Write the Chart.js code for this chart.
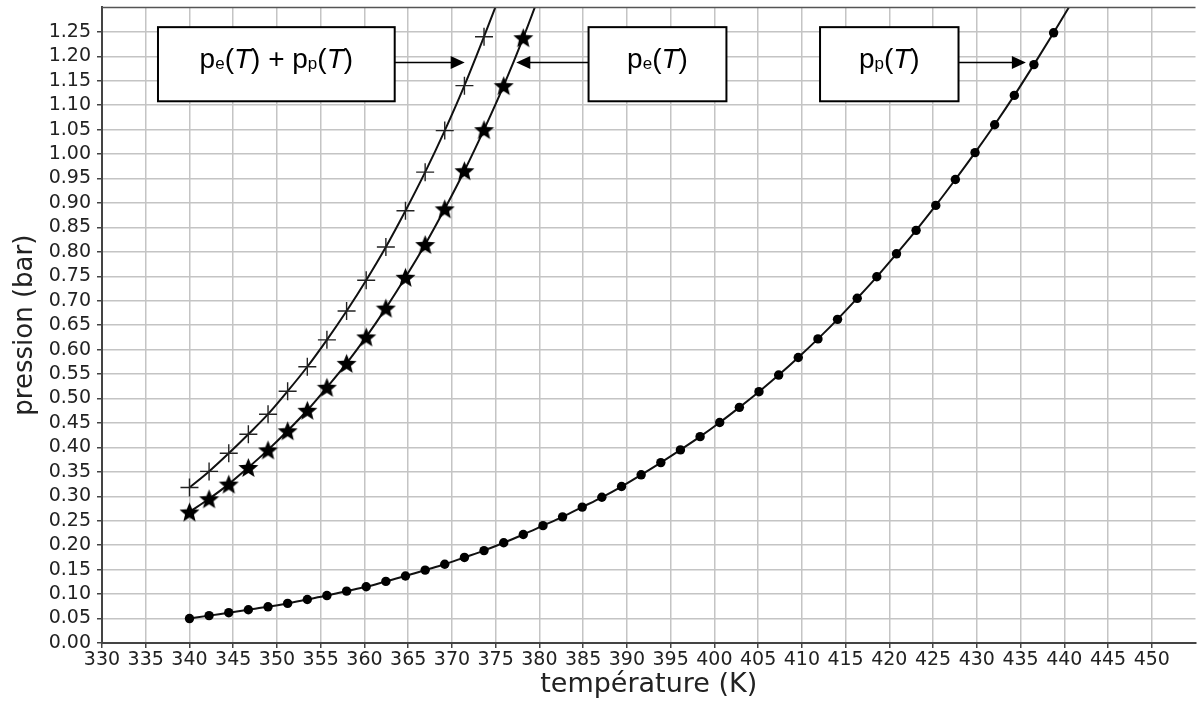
<!DOCTYPE html>
<html>
<head>
<meta charset="utf-8">
<script src="https://cdn.jsdelivr.net/npm/chart.js@4/dist/chart.umd.min.js"></script>
<style>
  html, body { margin: 0; background: #fff; overflow: hidden; }
  /* canvas slightly larger than the window so the plot area reaches the right edge and top as in the reference */
  #wrap { position: absolute; left: 0; top: -10px; width: 1208px; height: 714px; }
</style>
</head>
<body>
<div id="wrap"><canvas id="chart"></canvas></div>
<script>
// temperatures (K) at which the three curves are sampled
const temperatures = [340.00, 342.24, 344.49, 346.73, 348.98, 351.22, 353.47, 355.71, 357.96, 360.20,
  362.45, 364.69, 366.94, 369.18, 371.43, 373.67, 375.92, 378.16, 380.41, 382.65,
  384.90, 387.14, 389.39, 391.63, 393.88, 396.12, 398.37, 400.61, 402.86, 405.10,
  407.35, 409.59, 411.84, 414.08, 416.33, 418.57, 420.82, 423.06, 425.31, 427.55,
  429.80, 432.04, 434.29, 436.53, 438.78, 441.02];

// pressions (bar)
const ppValues = [0.050, 0.056, 0.062, 0.068, 0.074, 0.081, 0.089, 0.097, 0.106, 0.115,
  0.126, 0.137, 0.149, 0.161, 0.175, 0.189, 0.205, 0.222, 0.240, 0.258,
  0.278, 0.298, 0.320, 0.344, 0.369, 0.395, 0.422, 0.451, 0.482, 0.514,
  0.548, 0.584, 0.622, 0.662, 0.705, 0.749, 0.796, 0.844, 0.895, 0.948,
  1.003, 1.060, 1.120, 1.183, 1.248, 1.315];
const peValues = [0.268, 0.295, 0.325, 0.359, 0.395, 0.434, 0.476, 0.523, 0.572, 0.626,
  0.685, 0.748, 0.815, 0.888, 0.966, 1.050, 1.140, 1.238, 1.345];
const sumValues = [0.318, 0.351, 0.388, 0.427, 0.468, 0.515, 0.565, 0.620, 0.679, 0.742,
  0.810, 0.884, 0.963, 1.048, 1.140, 1.240, 1.345];

const xTickValues = [330, 335, 340, 345, 350, 355, 360, 365, 370, 375, 380, 385, 390, 395,
  400, 405, 410, 415, 420, 425, 430, 435, 440, 445, 450];
const yTickLabels = ["0.00", "0.05", "0.10", "0.15", "0.20", "0.25", "0.30", "0.35", "0.40",
  "0.45", "0.50", "0.55", "0.60", "0.65", "0.70", "0.75", "0.80", "0.85", "0.90", "0.95",
  "1.00", "1.05", "1.10", "1.15", "1.20", "1.25"];

function points(values) {
  return values.map((v, i) => ({ x: temperatures[i], y: v }));
}

// filled five-point star marker
function starMarker(size) {
  const c = document.createElement("canvas");
  c.width = size; c.height = size;
  const g = c.getContext("2d");
  const r = size / 2, ri = r * 0.44;
  g.beginPath();
  for (let k = 0; k < 10; k++) {
    const rad = k % 2 ? ri : r;
    const a = -Math.PI / 2 + k * Math.PI / 5;
    g.lineTo(r + rad * Math.cos(a), r + 1 + rad * Math.sin(a));
  }
  g.closePath();
  g.fillStyle = "#000";
  g.fill();
  return c;
}

// text boxes with arrows (data coordinates)
const callouts = [
  { parts: [["p"], ["e", "sub"], ["("], ["T", "it"], [")"], [" + "], ["p"], ["p", "sub"], ["("], ["T", "it"], [")"]],
    x0: 336.4, x1: 363.46, from: 363.46, tip: 371.46 },
  { parts: [["p"], ["e", "sub"], ["("], ["T", "it"], [")"]],
    x0: 385.62, x1: 401.38, from: 385.62, tip: 377.36 },
  { parts: [["p"], ["p", "sub"], ["("], ["T", "it"], [")"]],
    x0: 412.08, x1: 427.91, from: 427.91, tip: 435.61 }
];
const boxTop = 1.2596, boxBottom = 1.108, arrowY = 1.1883;

function fontFor(style) {
  if (style === "sub") return "17px 'Liberation Sans', Arial, sans-serif";
  if (style === "it") return "italic 28px 'Liberation Sans', Arial, sans-serif";
  return "28px 'Liberation Sans', Arial, sans-serif";
}

const calloutPlugin = {
  id: "callouts",
  afterDraw(chart) {
    const { ctx, chartArea: a, scales: { x, y } } = chart;
    ctx.save();
    // top spine
    ctx.strokeStyle = "#555";
    ctx.lineWidth = 1.5;
    ctx.beginPath();
    ctx.moveTo(a.left, a.top);
    ctx.lineTo(a.right, a.top);
    ctx.stroke();

    const top = y.getPixelForValue(boxTop), bottom = y.getPixelForValue(boxBottom);
    const ay = Math.round(y.getPixelForValue(arrowY)) + 0.5;
    callouts.forEach(c => {
      const l = x.getPixelForValue(c.x0), r = x.getPixelForValue(c.x1);
      // arrow
      const from = x.getPixelForValue(c.from), tip = x.getPixelForValue(c.tip);
      const dir = Math.sign(tip - from);
      ctx.strokeStyle = "#000";
      ctx.fillStyle = "#000";
      ctx.lineWidth = 1.5;
      ctx.beginPath();
      ctx.moveTo(from, ay);
      ctx.lineTo(tip - dir * 12, ay);
      ctx.stroke();
      ctx.beginPath();
      ctx.moveTo(tip, ay);
      ctx.lineTo(tip - dir * 14, ay - 6.5);
      ctx.lineTo(tip - dir * 14, ay + 6.5);
      ctx.closePath();
      ctx.fill();
      // box
      ctx.fillStyle = "#fff";
      ctx.fillRect(l, top, r - l, bottom - top);
      ctx.lineWidth = 2;
      ctx.strokeStyle = "#000";
      ctx.strokeRect(l, top, r - l, bottom - top);
      // text
      let w = 0;
      c.parts.forEach(p => { ctx.font = fontFor(p[1]); w += ctx.measureText(p[0]).width; });
      let tx = (l + r) / 2 - w / 2;
      const base = ay + 5;
      ctx.fillStyle = "#000";
      ctx.textBaseline = "alphabetic";
      ctx.textAlign = "left";
      c.parts.forEach(p => {
        ctx.font = fontFor(p[1]);
        ctx.fillText(p[0], tx, p[1] === "sub" ? base + 1.5 : base);
        tx += ctx.measureText(p[0]).width;
      });
    });
    ctx.restore();
  }
};

const lineStyle = {
  showLine: true,
  borderColor: "#111",
  borderWidth: 2,
  cubicInterpolationMode: "monotone",
  clip: 0
};

new Chart(document.getElementById("chart"), {
  type: "scatter",
  data: {
    datasets: [
      { ...lineStyle, label: "pp(T)", data: points(ppValues),
        pointStyle: "circle", pointRadius: 4.7, pointBackgroundColor: "#000", pointBorderColor: "#000", pointBorderWidth: 0 },
      { ...lineStyle, label: "pe(T)", data: points(peValues),
        pointStyle: starMarker(21), pointRadius: 10.5 },
      { ...lineStyle, label: "pe(T) + pp(T)", data: points(sumValues),
        pointStyle: "cross", pointRadius: 9, pointBorderColor: "#222", pointBorderWidth: 1.4 }
    ]
  },
  options: {
    responsive: true,
    maintainAspectRatio: false,
    animation: false,
    layout: { padding: { top: 7, right: 0, bottom: 0, left: 0 } },
    plugins: {
      legend: { display: false },
      tooltip: { enabled: false }
    },
    scales: {
      x: {
        type: "linear",
        min: 330,
        max: 455,
        afterBuildTicks: s => { s.ticks = xTickValues.map(v => ({ value: v })); },
        afterFit: s => { s.height = 61; },
        ticks: {
          autoSkip: false,
          maxRotation: 0,
          padding: 1,
          color: "#222",
          font: { family: "'DejaVu Sans'", size: 19 },
          callback: v => String(v)
        },
        grid: { color: "#c4c4c4", lineWidth: 1.5, tickLength: 5, tickColor: "#444", tickWidth: 1.5 },
        border: { color: "#444", width: 2 },
        title: {
          display: true,
          text: "température (K)",
          color: "#222",
          font: { family: "'DejaVu Sans'", size: 27 },
          padding: { top: 0, bottom: 3 }
        }
      },
      y: {
        type: "linear",
        min: 0,
        max: 1.3,
        afterBuildTicks: s => { s.ticks = yTickLabels.map(t => ({ value: parseFloat(t) })); },
        afterFit: s => { s.width = 102; },
        ticks: {
          autoSkip: false,
          padding: 6,
          color: "#222",
          font: { family: "'DejaVu Sans'", size: 19 },
          callback: (v, i) => yTickLabels[i]
        },
        grid: { color: "#c4c4c4", lineWidth: 1.5, tickLength: 5, tickColor: "#444", tickWidth: 1.5 },
        border: { color: "#444", width: 2 },
        title: {
          display: true,
          text: "pression (bar)",
          color: "#222",
          font: { family: "'DejaVu Sans'", size: 26 },
          padding: { top: 10, bottom: 0 }
        }
      }
    }
  },
  plugins: [calloutPlugin]
});
</script>
</body>
</html>
